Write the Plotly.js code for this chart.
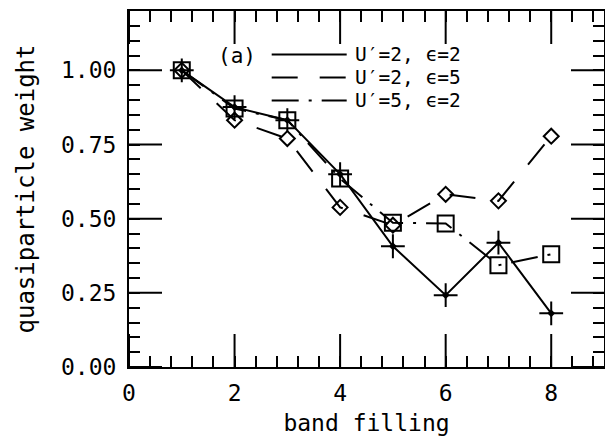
<!DOCTYPE html>
<html>
<head>
<meta charset="utf-8">
<script src="https://cdn.plot.ly/plotly-3.0.1.min.js"></script>
<style>html,body{margin:0;padding:0;background:#fff;}#chart{width:605px;height:440px;}</style>
</head>
<body>
<div id="chart"></div>
<script>
// band filling (x) and quasiparticle weight for the three parameter sets
const bandFilling = [1, 2, 3, 4, 5, 6, 7, 8];
const weightU2e2 = [1.00, 0.876, 0.832, 0.650, 0.407, 0.242, 0.419, 0.181];
const weightU2e5 = [1.00, 0.832, 0.770, 0.538, 0.478, 0.582, 0.560, 0.778];
const weightU5e2 = [1.00, 0.871, 0.832, 0.635, 0.486, 0.484, 0.343, 0.380];
const seriesLabels = ["U\u2032=2, \u03f5=2", "U\u2032=2, \u03f5=5", "U\u2032=5, \u03f5=2"];
const panelLabel = "(a)";
const xTickVals = [0, 2, 4, 6, 8];
const yTickVals = [0, 0.25, 0.5, 0.75, 1.0];
const yTickText = ["0.00", "0.25", "0.50", "0.75", "1.00"];
const xRange = [0, 9];
const yRange = [0, 1.2];

const FONT = "DejaVu Sans Mono, monospace";
const dashLong = "26px,22px";
const dashDot = "27px,10px,3px,10px";
const MAJOR_LEN = 33;

const traces = [
  {x: bandFilling, y: weightU2e2, mode: "lines+markers", name: seriesLabels[0],
   line: {color: "#000", width: 2, dash: "solid"},
   marker: {symbol: "cross-thin-open", size: 17, line: {color: "#000", width: 2}}},
  {x: bandFilling, y: weightU2e2, mode: "markers", name: seriesLabels[0], showlegend: false,
   marker: {symbol: "diamond", size: 6, color: "#000", line: {width: 0}}},
  {x: bandFilling, y: weightU2e5, mode: "lines+markers", name: seriesLabels[1],
   line: {color: "#000", width: 2, dash: dashLong},
   marker: {symbol: "diamond-open", size: 11.5, color: "#000", line: {color: "#000", width: 2}}},
  {x: bandFilling, y: weightU5e2, mode: "lines+markers", name: seriesLabels[2],
   line: {color: "#000", width: 2, dash: dashDot},
   marker: {symbol: "square-open", size: 16, color: "#000", line: {color: "#000", width: 2}}}
];

// legend drawn as annotations + sample lines (paper coordinates)
const legRows = [0.8778, 0.8132, 0.7486];
const legDash = ["solid", dashLong, dashDot];
const shapes = legRows.map((yy, i) => ({
  type: "line", xref: "paper", yref: "paper", x0: 0.3004, x1: 0.4583, y0: yy, y1: yy,
  line: {color: "#000", width: 2, dash: legDash[i]}
}));
const annotations = legRows.map((yy, i) => ({
  xref: "paper", yref: "paper", x: 0.4722, y: yy, xanchor: "left", yanchor: "middle",
  text: seriesLabels[i], showarrow: false, font: {family: FONT, size: 19.5, color: "#000"}
}));
annotations.push({xref: "paper", yref: "paper", x: 0.2722, y: 0.874, xanchor: "right", yanchor: "middle",
  text: panelLabel, showarrow: false, font: {family: FONT, size: 21, color: "#000"}});

// long major ticks on all four sides, placed at the tick values through the axis scales
const tickLine = {color: "#000", width: 2};
xTickVals.forEach(v => {
  shapes.push({type: "line", xref: "x", yref: "paper", x0: v, x1: v, ysizemode: "pixel", yanchor: 0, y0: 0, y1: MAJOR_LEN, line: tickLine});
  shapes.push({type: "line", xref: "x", yref: "paper", x0: v, x1: v, ysizemode: "pixel", yanchor: 1, y0: 0, y1: -MAJOR_LEN, line: tickLine});
});
yTickVals.forEach(v => {
  shapes.push({type: "line", xref: "paper", yref: "y", y0: v, y1: v, xsizemode: "pixel", xanchor: 0, x0: 0, x1: MAJOR_LEN, line: tickLine});
  shapes.push({type: "line", xref: "paper", yref: "y", y0: v, y1: v, xsizemode: "pixel", xanchor: 1, x0: 0, x1: -MAJOR_LEN, line: tickLine});
});

const axisCommon = {
  showline: true, linecolor: "#000", linewidth: 2, mirror: "allticks",
  ticks: "inside", ticklen: 11, tickwidth: 2, tickcolor: "#000",
  showgrid: false, zeroline: false,
  tickfont: {family: FONT, size: 23, color: "#000"}
};
const overlayCommon = {
  showline: false, mirror: "allticks", ticks: "inside", tickwidth: 2, tickcolor: "#000",
  showgrid: false, zeroline: false, showticklabels: false
};

const layout = {
  width: 605, height: 440,
  margin: {l: 129, r: 1, t: 11, b: 73},
  paper_bgcolor: "#fff", plot_bgcolor: "#fff",
  showlegend: false,
  xaxis: Object.assign({}, axisCommon, {
    range: xRange, tickmode: "array", tickvals: xTickVals,
    ticklabelstandoff: 4,
    title: {text: "band filling", font: {family: FONT, size: 23, color: "#000"}, standoff: 10}
  }),
  yaxis: Object.assign({}, axisCommon, {
    range: yRange, tickmode: "array", tickvals: yTickVals, ticktext: yTickText,
    ticklabelstandoff: 6,
    title: {text: "quasiparticle weight", font: {family: FONT, size: 24, color: "#000"}, standoff: 20}
  }),
  // overlay axes carrying the minor ticks
  xaxis2: Object.assign({}, overlayCommon, {overlaying: "x", range: xRange, tick0: 0, dtick: 0.4, ticklen: 11, anchor: "y"}),
  yaxis2: Object.assign({}, overlayCommon, {overlaying: "y", range: yRange, tick0: 0, dtick: 0.05, ticklen: 11, anchor: "x"}),
  shapes: shapes,
  annotations: annotations
};

// invisible trace so the overlay axes are drawn
traces.push({x: [null], y: [null], xaxis: "x2", yaxis: "y2", mode: "markers", hoverinfo: "skip", showlegend: false});

Plotly.newPlot("chart", traces, layout, {displayModeBar: false, staticPlot: true});
</script>
</body>
</html>
